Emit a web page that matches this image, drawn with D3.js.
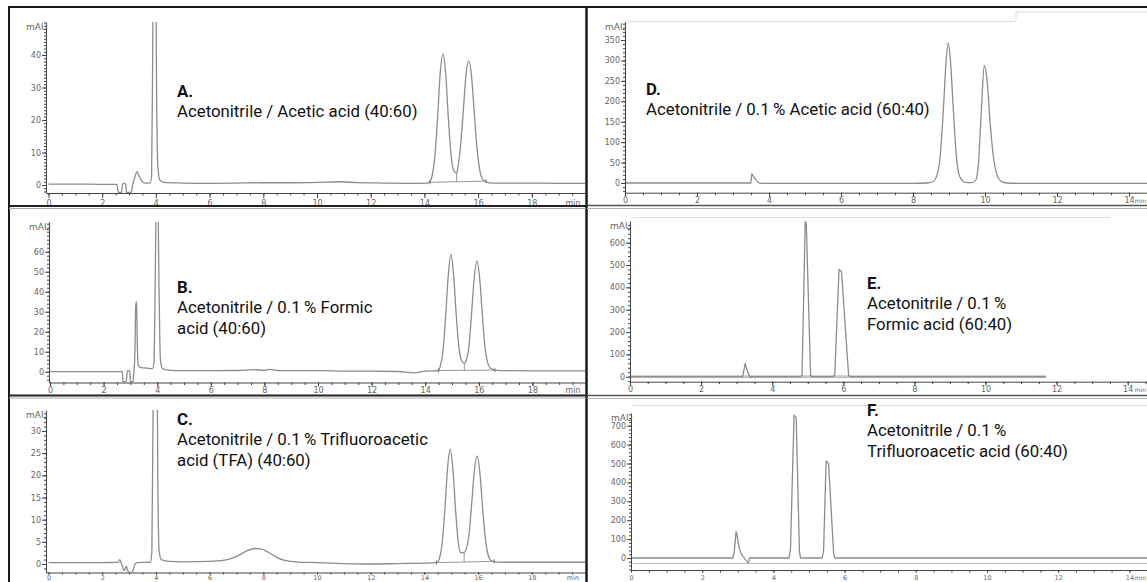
<!DOCTYPE html>
<html><head><meta charset="utf-8">
<script src="https://cdn.jsdelivr.net/npm/d3@7"></script>
<style>
body{margin:0;background:#fff}
svg{display:block}
.lbl{font-family:"Liberation Sans Narrow","Arial Narrow","Roboto",sans-serif;font-size:16.8px;fill:#111}
.tk text{font-family:"DejaVu Sans",sans-serif;fill:#666}
</style></head><body>
<svg id="c" width="1147" height="582"></svg>
<script>
// ---------- data ----------
const panelNames = ["A.", "B.", "C.", "D.", "E.", "F."];
const panelTexts = [
  ["Acetonitrile / Acetic acid (40:60)"],
  ["Acetonitrile / 0.1\u2009% Formic", "acid (40:60)"],
  ["Acetonitrile / 0.1\u2009% Trifluoroacetic", "acid (TFA) (40:60)"],
  ["Acetonitrile / 0.1\u2009% Acetic acid (60:40)"],
  ["Acetonitrile / 0.1\u2009%", "Formic acid (60:40)"],
  ["Acetonitrile / 0.1\u2009%", "Trifluoroacetic acid (60:40)"]
];
const xTicksLeft = [0, 2, 4, 6, 8, 10, 12, 14, 16, 18];
const xTicksRight = [0, 2, 4, 6, 8, 10, 12, 14];
const yTicksA = [0, 10, 20, 30, 40];
const yTicksB = [0, 10, 20, 30, 40, 50, 60];
const yTicksC = [0, 5, 10, 15, 20, 25, 30];
const yTicksD = [0, 50, 100, 150, 200, 250, 300, 350];
const yTicksE = [0, 100, 200, 300, 400, 500, 600];
const yTicksF = [0, 100, 200, 300, 400, 500, 600, 700];

// chromatogram traces: [time (min), absorbance (mAU)]
const traceA = [[0,0.3],[1,0.3],[2,0.2],[2.55,0.2],[2.6,-2.3],[2.72,-2.3],[2.76,0.2],[2.82,0.6],[2.88,0.2],[2.9,-2.3],[3.08,-2.3],[3.14,0.3],[3.22,2.5],[3.3,4.1],[3.38,2.6],[3.48,1.2],[3.6,0.6],[3.78,0.6],[3.84,3],[3.88,40],[3.92,90],[3.98,90],[4.02,35],[4.07,6],[4.15,1.5],[4.3,0.8],[5,0.6],[6,0.5],[7,0.6],[8,0.7],[9,0.7],[10,0.8],[10.9,1.0],[11.5,0.7],[12.5,0.6],[13.5,0.5],[14.1,0.6],[14.19,0.9],[14.29,3],[14.39,8.9],[14.49,20.5],[14.59,34.5],[14.69,40.3],[14.79,34.6],[14.89,20.8],[14.99,9.5],[15.09,4.5],[15.2,3.6],[15.25,5.6],[15.35,12.3],[15.45,23],[15.55,34],[15.65,38.2],[15.75,34],[15.85,23],[15.95,12.2],[16.05,5.2],[16.15,2],[16.3,0.9],[16.5,0.6],[17,0.6],[18,0.6],[19,0.5],[20,0.5]];
const traceB = [[0,0],[1,0],[2,0],[2.7,0],[2.72,-5],[2.85,-5],[2.88,0],[2.93,0.6],[2.98,0],[3.0,-5],[3.1,-5],[3.13,0],[3.17,10],[3.2,33],[3.23,35],[3.26,12],[3.3,3],[3.4,2],[3.6,1.8],[3.82,1.5],[3.88,5],[3.93,50],[3.97,90],[4.02,90],[4.07,40],[4.12,6],[4.2,1.5],[4.4,0.8],[5,0.5],[6,0.5],[7,0.6],[7.6,1.0],[8,0.7],[8.2,1.2],[8.5,0.6],[9,0.5],[10,0.5],[11,0.3],[12,0.3],[13,0.1],[13.6,-0.6],[14,0.3],[14.5,0.6],[14.56,2.6],[14.66,10],[14.76,27],[14.86,48],[14.96,58.8],[15.06,48.5],[15.16,28],[15.26,12],[15.36,5.5],[15.46,4.2],[15.53,5.5],[15.63,12.5],[15.73,29],[15.83,47],[15.93,55.3],[16.03,47],[16.13,29],[16.23,12.5],[16.33,4.5],[16.43,1.8],[16.6,0.8],[17,0.5],[18,0.4],[20,0.4]];
const traceC = [[0,0.3],[1,0.3],[2,0.3],[2.6,0.4],[2.65,1.0],[2.7,0.4],[2.75,-0.5],[2.82,-1.5],[2.9,-0.5],[2.95,-1.5],[3.05,-2],[3.15,-1.5],[3.2,-0.3],[3.3,0.3],[3.8,0.4],[3.85,3],[3.9,40],[3.94,70],[4.02,70],[4.07,20],[4.12,3],[4.2,1],[4.5,0.6],[5,0.5],[6,0.6],[6.5,0.8],[6.8,1.2],[7.1,2.0],[7.4,3.0],[7.7,3.5],[7.9,3.4],[8.2,2.6],[8.5,1.5],[8.8,0.8],[9.2,0.5],[10,0.3],[11,0.1],[12,0],[13,0.1],[14,0.2],[14.45,0.3],[14.56,1.3],[14.66,4.7],[14.76,12.1],[14.86,21.5],[14.96,25.9],[15.06,21.5],[15.16,12.2],[15.26,5],[15.36,2.5],[15.48,2.6],[15.56,3.4],[15.66,6.6],[15.76,13.5],[15.86,21],[15.96,24.4],[16.06,21],[16.16,13.3],[16.26,6.3],[16.36,2.4],[16.46,0.9],[16.6,0.5],[17,0.4],[18,0.4],[20,0.4]];
const traceD = [[0,0],[1,0],[2,0],[3,0],[3.5,0],[3.52,22],[3.6,12],[3.7,2],[3.8,-1],[5,-1],[6,-1],[7,-1],[8,-1],[8.4,0],[8.55,3],[8.65,15],[8.75,60],[8.85,190],[8.92,300],[8.98,342],[9.04,300],[9.12,180],[9.2,70],[9.28,20],[9.38,5],[9.5,1],[9.65,1],[9.75,8],[9.82,50],[9.9,180],[9.98,287],[10.06,250],[10.14,150],[10.24,60],[10.34,18],[10.45,4],[10.6,0],[11,-1],[12,-1],[13,-1],[14,-1],[14.6,-1]];
const traceE = [[0,0],[1,0],[2,0],[3,0],[3.17,0],[3.24,60],[3.3,25],[3.38,-3],[3.45,0],[4.8,0],[4.84,8],[4.93,700],[4.96,680],[5.08,5],[5.12,0],[5.72,0],[5.76,10],[5.88,480],[5.95,470],[6.15,5],[6.2,0],[7,0],[8,0],[9,0],[10,0],[11,0],[11.7,0]];
const traceF = [[0,0],[1,0],[2,0],[2.86,0],[2.9,30],[2.95,139],[2.98,120],[3.03,60],[3.1,20],[3.2,-5],[3.28,-23],[3.31,-23],[3.32,0],[4,0],[4.44,0],[4.48,50],[4.58,756],[4.64,740],[4.73,40],[4.76,0],[5.37,0],[5.41,40],[5.48,513],[5.55,500],[5.69,30],[5.72,0],[7,0],[10,0],[14.6,0]];
// integration baselines [start, end] and drop-line times
const integA = [[14.2, 0.8], [16.3, 1.2]], dropA = 15.2;
const integB = [[14.5, 0.6], [16.6, 0.8]], dropB = 15.46;
const integC = [[14.45, 0.3], [16.6, 0.6]], dropC = 15.48;

// ---------- layout ----------
const svg = d3.select("#c");
const panels = [
  {id:"A", trace:traceA, yt:yTicksA, xt:xTicksLeft, integ:integA, drop:dropA, axisX:46, x0:48.5, pxMin:26.85, xEnd:585, yZero:185, yRef:55, vRef:40, yTop:22, xAxisY:193, labBase:206, fs:8, tick:5, minorY:1, minX:0.5, minLab:[573,"middle",8], txt:[177,97]},
  {id:"B", trace:traceB, yt:yTicksB, xt:xTicksLeft, integ:integB, drop:dropB, axisX:49, x0:50, pxMin:26.8, xEnd:585, yZero:371.7, yRef:251.7, vRef:60, yTop:222, xAxisY:382.5, labBase:392.5, fs:8, tick:4, minorY:2, minX:0.5, minLab:[573,"middle",8], txt:[177,293]},
  {id:"C", trace:traceC, yt:yTicksC, xt:xTicksLeft, integ:integC, drop:dropC, axisX:46, x0:48.5, pxMin:26.85, xEnd:585, yZero:564, yRef:431, vRef:30, yTop:410, xAxisY:572.5, labBase:579.6, fs:6.5, tick:2, minorY:1, minX:0.5, minLab:[573,"middle",6.5], txt:[177,425]},
  {id:"D", trace:traceD, yt:yTicksD, xt:xTicksRight, axisX:625, x0:625, pxMin:36, xEnd:1147, yZero:183, yRef:40, vRef:350, yTop:21.7, xAxisY:192.7, labBase:203, fs:8, tick:4, minorY:10, minX:0.5, minLab:[1146,"end",6], txt:[646,95]},
  {id:"E", trace:traceE, yt:yTicksE, xt:xTicksRight, axisX:630, x0:630, pxMin:35.55, xEnd:1147, yZero:376.7, yRef:242.7, vRef:600, yTop:221, xAxisY:381.7, labBase:392, fs:8, tick:4, minorY:20, minX:0.5, minLab:[1146,"end",6], txt:[867,289]},
  {id:"F", trace:traceF, yt:yTicksF, xt:xTicksRight, axisX:631, x0:631, pxMin:35.6, xEnd:1147, yZero:558, yRef:425.7, vRef:700, yTop:413, xAxisY:570, labBase:579.6, fs:6.5, tick:2.5, minorY:20, minX:0.5, minLab:[1146,"end",6], txt:[867,416]}
];

// light frames (right panels)
const g0 = svg.append("g").attr("stroke", "#dcdcdc").attr("fill", "none").attr("stroke-width", 1);
g0.append("path").attr("d", "M628,21.5H1016V12H1147");
g0.append("path").attr("d", "M633,217.5H1110");
g0.append("path").attr("d", "M633,405.5H1147");
g0.append("path").attr("d", "M633,563.5H1147").attr("stroke", "#bdbdbd");

panels.forEach((p, i) => {
  const x = d3.scaleLinear().domain([0, 1]).range([p.x0, p.x0 + p.pxMin]);
  x.domain([x.invert(p.axisX), x.invert(p.xEnd)]).range([p.axisX, p.xEnd]);
  const y = d3.scaleLinear().domain([0, p.vRef]).range([p.yZero, p.yRef]);
  y.domain([y.invert(p.xAxisY), y.invert(p.yTop)]).range([p.xAxisY, p.yTop]);

  const clipId = "clip" + p.id;
  svg.append("clipPath").attr("id", clipId).append("rect")
    .attr("x", p.axisX).attr("y", p.yTop).attr("width", p.xEnd - p.axisX).attr("height", p.xAxisY - p.yTop);

  const g = svg.append("g");
  const line = d3.line().x(d => x(d[0])).y(d => y(d[1]));
  const smooth = (p.id === "E" || p.id === "F") ? d3.curveLinear : d3.curveMonotoneX;

  const cg = g.append("g").attr("clip-path", `url(#${clipId})`);
  if (p.id === "E") {
    cg.append("path").datum([[0, 0], [11.7, 0]])
      .attr("d", line).attr("fill", "none").attr("stroke", "#c4c4c4").attr("stroke-width", 3);
  }
  cg.append("path").datum(p.trace)
    .attr("d", line.curve(smooth)).attr("fill", "none")
    .attr("stroke", "#8c8c8c").attr("stroke-width", 1.3).attr("stroke-linejoin", "round");
  if (p.integ) {
    const l2 = d3.line().x(d => x(d[0])).y(d => y(d[1]));
    cg.append("path").datum(p.integ).attr("d", l2).attr("fill", "none").attr("stroke", "#8c8c8c").attr("stroke-width", 0.9);
    const s = p.integ, t = p.drop;
    const base = s[0][1] + (s[1][1] - s[0][1]) * (t - s[0][0]) / (s[1][0] - s[0][0]);
    const top = p.trace.reduce((a, d) => Math.abs(d[0] - t) < Math.abs(a[0] - t) ? d : a)[1];
    cg.append("line").attr("x1", x(t)).attr("x2", x(t)).attr("y1", y(base)).attr("y2", y(top))
      .attr("stroke", "#8c8c8c").attr("stroke-width", 0.9);
    s.forEach(d => cg.append("line").attr("x1", x(d[0])).attr("x2", x(d[0])).attr("y1", y(d[1]) - 2).attr("y2", y(d[1]) + 2).attr("stroke", "#777"));
  }

  // y axis
  const yMinor = d3.range(Math.ceil(y.domain()[0] / p.minorY) * p.minorY, y.domain()[1], p.minorY);
  g.append("g").attr("class", "tk").attr("transform", `translate(${p.axisX},0)`)
    .call(d3.axisLeft(y).tickValues(yMinor).tickSize(2).tickSizeOuter(0).tickFormat(""))
    .call(a => a.selectAll("line,path").attr("stroke", "#444"));
  g.append("g").attr("class", "tk").attr("transform", `translate(${p.axisX},0)`)
    .call(d3.axisLeft(y).tickValues(p.yt).tickSize(4).tickPadding(1).tickFormat(d3.format("d")))
    .call(a => { a.select(".domain").remove(); a.selectAll("line").attr("stroke", "#444"); a.selectAll("text").style("font-size", "8px"); });
  g.append("text").attr("x", p.axisX - 20).attr("y", p.yTop + 8)
    .style("font-family", "DejaVu Sans, sans-serif").style("font-size", "9px").attr("fill", "#666").text("mAU");

  // x axis
  const xMinor = d3.range(0, x.domain()[1], p.minX);
  g.append("g").attr("class", "tk").attr("transform", `translate(0,${p.xAxisY})`)
    .call(d3.axisBottom(x).tickValues(xMinor).tickSize(Math.min(2.5, p.tick)).tickSizeOuter(0).tickFormat(""))
    .call(a => a.selectAll("line,path").attr("stroke", "#444"));
  const pad = p.labBase - p.xAxisY - p.tick - 0.71 * p.fs;
  g.append("g").attr("class", "tk").attr("transform", `translate(0,${p.xAxisY})`)
    .call(d3.axisBottom(x).tickValues(p.xt).tickSize(p.tick).tickPadding(pad).tickFormat(d3.format("d")))
    .call(a => { a.select(".domain").remove(); a.selectAll("line").attr("stroke", "#444"); a.selectAll("text").style("font-size", p.fs + "px"); });
  g.append("text").attr("x", p.minLab[0]).attr("y", p.labBase)
    .attr("text-anchor", p.minLab[1]).style("font-family", "DejaVu Sans, sans-serif").style("font-size", p.minLab[2] + "px").attr("fill", "#666").text("min");

  // panel labels
  const t = svg.append("text").attr("class", "lbl").attr("x", p.txt[0]).attr("y", p.txt[1]);
  t.append("tspan").attr("x", p.txt[0]).attr("font-weight", "bold").text(panelNames[i]);
  panelTexts[i].forEach(s => t.append("tspan").attr("x", p.txt[0]).attr("dy", 20.3).text(s));
});

// frame
const f = svg.append("g").attr("fill", "none");
f.append("path").attr("d", "M9,582V7H1147").attr("stroke", "#1a1a1a").attr("stroke-width", 2);
f.append("path").attr("d", "M586.5,7V582").attr("stroke", "#1a1a1a").attr("stroke-width", 2.5);
f.append("path").attr("d", "M9,206H586M9,395.5H586").attr("stroke", "#222").attr("stroke-width", 2);
f.append("path").attr("d", "M9,208.5H586M9,398H586").attr("stroke", "#aaa").attr("stroke-width", 1);
f.append("path").attr("d", "M587,205.5H1147M587,395.5H1147").attr("stroke", "#555").attr("stroke-width", 1.5);
f.append("path").attr("d", "M587,208.5H1147M587,398.5H1147").attr("stroke", "#b0b0b0").attr("stroke-width", 1);
</script>
</body></html>
